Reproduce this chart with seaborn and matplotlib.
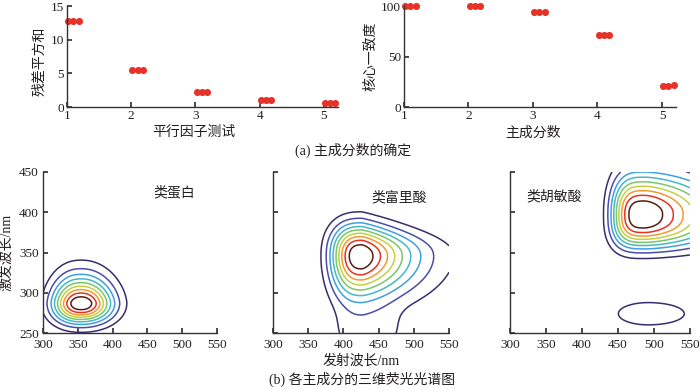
import numpy as np
import pandas as pd
import matplotlib
matplotlib.use("Agg")
import matplotlib.pyplot as plt
import seaborn as sns

# ---------- datos (a) ----------
components = [1, 2, 3, 4, 5]
rss_run1 = [12.8, 5.45, 2.23, 1.04, 0.59]
rss_run2 = [12.8, 5.45, 2.23, 1.04, 0.59]
rss_run3 = [12.8, 5.45, 2.23, 1.04, 0.59]
core_run1 = [100, 100, 93.8, 71.3, 20.8]
core_run2 = [100, 100, 93.8, 71.3, 21.0]
core_run3 = [100, 100, 93.8, 71.3, 21.8]

# ---------- datos (b): picos ----------
# [em, ex, s_izq, s_der, s_abajo, s_arriba, p_izq, p_der, p_abajo, p_arriba, amplitud, estrechamiento]
protein_peak = [355, 287, 40, 44, 24, 32, 2.3, 2.1, 2.05, 1.62, 1.0, 0.0]
fulvic_peak = [426, 345, 42, 74, 50, 38.7, 2.6, 1.47, 1.9, 2.31, 1.0, 0.2]
fulvic_tail = [435, 250, 50, 50, 100, 30, 4, 4, 2, 2, 0.12, 0.0]
humic_peak = [487, 398, 44, 102, 40.6, 47.5, 3.2, 1.6, 2.68, 2.07, 1.0, 0.0]
humic_low = [492, 274, 81, 98, 27, 27, 2, 2, 2, 2, 0.13, 0.0]

panel_names = ["类蛋白", "类富里酸", "类胡敏酸"]
name_em = [488, 479, 361]
name_ex = [424, 418, 419]

em_axis = np.arange(300, 551, 2)
ex_axis = np.arange(250, 451, 2)
levels = [0.1, 0.2, 0.3, 0.4, 0.5, 0.6, 0.7, 0.8, 0.9]
line_colors = ["#3b2c6c", "#4b4cab", "#3f9fe0", "#44b9c4", "#7cc66a",
               "#c3d243", "#f5992f", "#e8321f", "#5b1b12"]


def peak(EM, EX, prm):
    c_em, c_ex, sl, sr, sd, su, pl, pr, pd_, pu, amp, tap = prm
    dx = EM - c_em
    dy = EX - c_ex
    tx = np.where(dx < 0, np.abs(dx / sl) ** pl, np.abs(dx / sr) ** pr)
    su_eff = su / (1 + tap * np.clip(dx, 0, None) / sr)
    ty = np.where(dy < 0, np.abs(dy / sd) ** pd_, np.abs(dy / su_eff) ** pu)
    return amp * np.exp(-(tx + ty))


EM, EX = np.meshgrid(em_axis, ex_axis)
fields = [
    peak(EM, EX, protein_peak),
    peak(EM, EX, fulvic_peak) + peak(EM, EX, fulvic_tail),
    peak(EM, EX, humic_peak) + peak(EM, EX, humic_low),
]

# ---------- estilo ----------
sns.set_theme(style="ticks")
plt.rcParams["font.family"] = ["Liberation Serif", "Noto Sans CJK SC"]
plt.rcParams.update({
    "axes.edgecolor": "#333333", "axes.linewidth": 1.0,
    "xtick.direction": "in", "ytick.direction": "in",
    "xtick.major.size": 3.5, "ytick.major.size": 3.5,
    "xtick.color": "#333333", "ytick.color": "#333333",
    "xtick.labelcolor": "#231f20", "ytick.labelcolor": "#231f20",
    "xtick.labelsize": 9.5, "ytick.labelsize": 9.5,
    "xtick.major.pad": 2, "ytick.major.pad": 2,
})
txt = "#231f20"
red = "#e5332a"

fig = plt.figure(figsize=(7, 3.9), dpi=100)

# ---------- (a) ----------
offsets = [0.02, 0.1, 0.18]
rows = []
for off, r, c in zip(offsets, [rss_run1, rss_run2, rss_run3], [core_run1, core_run2, core_run3]):
    for k, rv, cv in zip(components, r, c):
        rows.append({"n": k + off, "rss": rv, "core": cv})
df = pd.DataFrame(rows)

ax1 = fig.add_axes([0.0957, 0.7256, 0.387, 0.259])
sns.scatterplot(data=df, x="n", y="rss", ax=ax1, color=red, s=26, linewidth=0, clip_on=False)
ax1.set_xlim(1, 5.22)
ax1.set_ylim(0, 15)
ax1.set_xticks(components)
ax1.set_yticks([0, 5, 10, 15])
ax1.set_xlabel("平行因子测试", fontsize=10, color=txt)
ax1.set_ylabel("残差平方和", fontsize=10, color=txt)
ax1.xaxis.set_label_coords(0.47, -0.19)
ax1.yaxis.set_label_coords(-0.075, 0.45)

ax2 = fig.add_axes([0.577, 0.7256, 0.389, 0.259])
sns.scatterplot(data=df, x="n", y="core", ax=ax2, color=red, s=26, linewidth=0, clip_on=False)
ax2.set_xlim(1, 5.22)
ax2.set_ylim(0, 100)
ax2.set_xticks(components)
ax2.set_yticks([0, 50, 100])
ax2.set_xlabel("主成分数", fontsize=10, color=txt)
ax2.set_ylabel("核心一致度", fontsize=10, color=txt)
ax2.xaxis.set_label_coords(0.474, -0.19)
ax2.yaxis.set_label_coords(-0.1, 0.5)

for ax in (ax1, ax2):
    sns.despine(ax=ax)

fig.text(0.504, 0.615, "(a) 主成分数的确定", ha="center", va="center", fontsize=10, color=txt)

# ---------- (b) ----------
boxes = [[0.0614, 0.146, 0.2486, 0.413],
         [0.39, 0.146, 0.2514, 0.413],
         [0.7286, 0.146, 0.257, 0.413]]
for i, (box, Z) in enumerate(zip(boxes, fields)):
    ax = fig.add_axes(box)
    ax.contour(EM, EX, Z, levels=levels, colors=line_colors, linewidths=1.1)
    ax.set_xlim(300, 550)
    ax.set_ylim(250, 450)
    ax.set_xticks(range(300, 551, 50))
    ax.set_yticks(range(250, 451, 50))
    ax.tick_params(axis="x", pad=4)
    ax.text(name_em[i], name_ex[i], panel_names[i], ha="center", va="center", fontsize=10, color=txt)
    sns.despine(ax=ax)
    if i == 0:
        ax.set_ylabel("激发波长/nm", fontsize=10, color=txt)
        ax.yaxis.set_label_coords(-0.17, 0.5)
        ax.tick_params(axis="y", pad=3)
    else:
        ax.set_yticklabels([])
    if i == 1:
        ax.set_xlabel("发射波长/nm", fontsize=10, color=txt)
        ax.xaxis.set_label_coords(0.5, -0.13)

fig.text(0.517, 0.026, "(b) 各主成分的三维荧光光谱图", ha="center", va="center", fontsize=10, color=txt)

fig.savefig("out.png", dpi=100, facecolor="white")
